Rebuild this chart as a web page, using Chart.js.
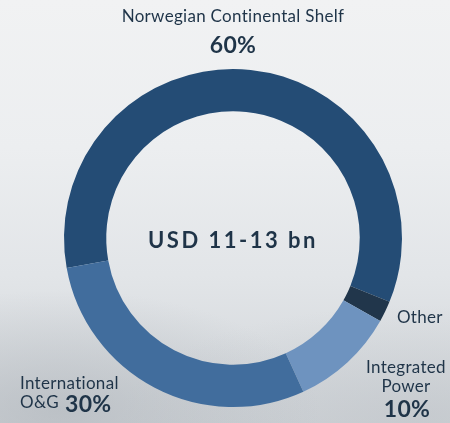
<!DOCTYPE html>
<html>
<head>
<meta charset="utf-8">
<script src="https://cdn.jsdelivr.net/npm/chart.js@4/dist/chart.umd.min.js"></script>
<style>
  html, body { margin: 0; padding: 0; }
  body {
    width: 450px; height: 423px; overflow: hidden;
    background:
      radial-gradient(ellipse 260px 120px at 60px 410px, rgba(170,176,182,0.55), rgba(170,176,182,0) 100%),
      radial-gradient(ellipse 300px 110px at 420px 415px, rgba(185,190,195,0.45), rgba(185,190,195,0) 100%),
      linear-gradient(to bottom, #f1f2f3 0%, #eceef0 35%, #e2e5e8 65%, #d0d4d8 100%);
  }
  canvas { display: block; }
</style>
</head>
<body>
<canvas id="c" width="450" height="423"></canvas>
<script>
const categories = ["Norwegian Continental Shelf", "Other", "Integrated Power", "International O&G"];
const shares = [59, 2, 10, 29];
const shareLabels = ["60%", "", "10%", "30%"];
const centerText = "USD 11-13 bn";
const colors = ["#244c75", "#21364b", "#6e93bf", "#416d9d"];

const TEXT = "#1f3448";
const FONT = "Lato, 'Noto Sans', sans-serif";

const labelPlugin = {
  id: "labels",
  afterDraw(chart) {
    const ctx = chart.ctx;
    const a = chart.chartArea;
    const cx = (a.left + a.right) / 2;
    const cy = (a.top + a.bottom) / 2;
    const ls = (v) => { if ('letterSpacing' in ctx) ctx.letterSpacing = v; };
    ctx.save();
    ctx.fillStyle = TEXT;
    ctx.textBaseline = "middle";
    ctx.textAlign = "center";
    // center
    ctx.font = "bold 22px " + FONT;
    ls("2.5px");
    ctx.fillText(centerText, cx, cy + 3);
    ls("0.3px");
    // NCS
    ctx.font = "17px " + FONT;
    ctx.fillText(categories[0], cx, cy - 221);
    ctx.font = "bold 23px " + FONT;
    ctx.fillText(shareLabels[0], cx, cy - 192);
    // Other
    ctx.font = "17px " + FONT;
    ctx.textAlign = "left";
    ctx.fillText(categories[1], cx + 164, cy + 80);
    // Integrated Power
    ctx.textAlign = "center";
    const ip = categories[2].split(" ");
    ctx.fillText(ip[0], cx + 173, cy + 130);
    ctx.fillText(ip[1], cx + 173, cy + 149);
    ctx.font = "bold 23px " + FONT;
    ctx.fillText(shareLabels[2], cx + 174, cy + 172);
    // International O&G
    ctx.textAlign = "left";
    ctx.font = "17px " + FONT;
    const io = categories[3].split(" ");
    ctx.fillText(io[0], cx - 213, cy + 146);
    ctx.fillText(io[1], cx - 213, cy + 165);
    ctx.font = "bold 23px " + FONT;
    ctx.fillText(shareLabels[3], cx - 168, cy + 167);
    ctx.restore();
  }
};

new Chart(document.getElementById("c"), {
  type: "doughnut",
  data: {
    labels: categories,
    datasets: [{
      data: shares,
      backgroundColor: colors,
      borderWidth: 0,
      hoverOffset: 0
    }]
  },
  options: {
    responsive: false,
    animation: false,
    rotation: 259.8,
    cutout: "75%",
    layout: { padding: { left: 64, right: 48, top: 69, bottom: 16 } },
    plugins: {
      legend: { display: false },
      tooltip: { enabled: false }
    }
  },
  plugins: [labelPlugin]
});
</script>
</body>
</html>
